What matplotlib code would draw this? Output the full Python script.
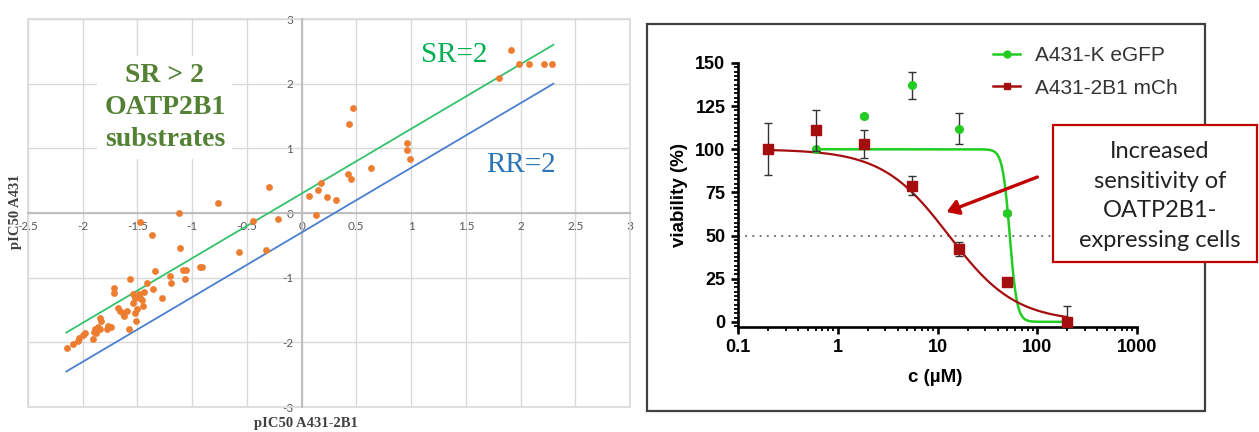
import numpy as np
import matplotlib
matplotlib.use("Agg")
import matplotlib.pyplot as plt
from matplotlib.patches import Rectangle
from matplotlib.ticker import MultipleLocator, FixedLocator, LogLocator, NullFormatter
from matplotlib.lines import Line2D

# ---------------- Left panel data (pIC50 scatter) ----------------
pic50_2b1 = [-2.14, -2.09, -2.04, -2.03, -2.00, -1.98, -1.91, -1.90, -1.89, -1.88,
             -1.86, -1.84, -1.84, -1.83, -1.78, -1.77, -1.74, -1.71, -1.71, -1.68,
             -1.66, -1.63, -1.62, -1.60, -1.58, -1.57, -1.54, -1.52, -1.52, -1.51,
             -1.50, -1.49, -1.48, -1.48, -1.46, -1.45, -1.44, -1.41, -1.37, -1.36,
             -1.34, -1.28, -1.20, -1.19, -1.12, -1.11, -1.08, -1.07, -1.06, -0.93,
             -0.91, -0.76, -0.57, -0.44, -0.33, -0.30, -0.22, 0.07, 0.13, 0.15,
             0.18, 0.23, 0.31, 0.42, 0.45, 0.43, 0.47, 0.63, 0.96, 0.96,
             0.99, 1.80, 1.91, 1.99, 2.08, 2.21, 2.29, -1.54]
pic50_a431 = [-2.09, -2.03, -1.98, -1.94, -1.89, -1.85, -1.95, -1.84, -1.80, -1.85,
              -1.77, -1.62, -1.80, -1.67, -1.79, -1.74, -1.77, -1.16, -1.23, -1.47,
              -1.52, -1.54, -1.59, -1.52, -1.80, -1.02, -1.39, -1.54, -1.31, -1.67,
              -1.49, -1.26, -0.14, -1.32, -1.34, -1.44, -1.22, -1.08, -0.34, -1.18,
              -0.90, -1.32, -0.97, -1.08, 0.00, -0.54, -0.88, -1.02, -0.88, -0.84,
              -0.84, 0.15, -0.61, -0.12, -0.57, 0.40, -0.10, 0.26, -0.03, 0.35,
              0.47, 0.24, 0.20, 0.60, 0.53, 1.38, 1.63, 0.69, 1.08, 0.98,
              0.84, 2.09, 2.52, 2.30, 2.30, 2.30, 2.30, -1.26]
ratio_line_x = [-2.15, 2.3]
sr_offset = 0.301   # log10(2)
rr_offset = -0.301

# ---------------- Right panel data (viability) ----------------
conc_red = [0.2, 0.6, 1.85, 5.55, 16.6, 50, 200]
viab_red = [100, 111, 103, 79, 42, 23, 0]
err_red = [15, 12, 8, 5.5, 4, 1, 9]
conc_green = [0.6, 1.85, 5.55, 16.6, 50, 200]
viab_green = [100, 119, 137, 112, 63, 0]
err_green = [1, 1, 8, 9, 1, 1]
fit_red = dict(top=100, bottom=0, ic50=13.0, hill=1.3)
fit_green = dict(top=100, bottom=0, ic50=53.0, hill=12.0)

W, H = 1259, 432
fig = plt.figure(figsize=(W / 100, H / 100), dpi=100)


def fx(px):
    return px / W


def fy(py):
    return 1 - py / H


# ================= Left panel =================
axL = fig.add_axes([fx(28), fy(407), fx(602), 388 / H])
axL.set_xlim(-2.5, 3)
axL.set_ylim(-3, 3)
axL.xaxis.set_major_locator(MultipleLocator(0.5))
axL.yaxis.set_major_locator(MultipleLocator(1))
axL.grid(True, color="#d9d9d9", lw=1.0, zorder=0)
axL.set_axisbelow(True)
for s in ["top", "right"]:
    axL.spines[s].set_visible(False)
axL.spines["bottom"].set_position(("data", 0))
axL.spines["left"].set_position(("data", 0))
axL.spines["bottom"].set_color("#bfbfbf")
axL.spines["left"].set_color("#bfbfbf")
axL.spines["bottom"].set_linewidth(1.5)
axL.spines["left"].set_linewidth(1.5)
axL.add_patch(Rectangle((0, 0), 1, 1, transform=axL.transAxes, fill=False,
                        ec="#d9d9d9", lw=1.2, zorder=1, clip_on=False))
axL.tick_params(length=0, labelsize=8.5, colors="#595959", pad=6)
for lab in axL.get_xticklabels() + axL.get_yticklabels():
    lab.set_fontfamily("Lato")
axL.xaxis.set_major_formatter(matplotlib.ticker.FuncFormatter(lambda v, p: f"{v:g}"))
axL.yaxis.set_major_formatter(matplotlib.ticker.FuncFormatter(lambda v, p: f"{v:g}"))

lx = np.array(ratio_line_x)
axL.plot(lx, lx + sr_offset, color="#33c26b", lw=1.3, zorder=3)
axL.plot(lx, lx + rr_offset, color="#4a7fd0", lw=1.3, zorder=3)
axL.scatter(pic50_2b1, pic50_a431, s=24, color="#ed7d31", zorder=4, linewidths=0)

axL.text(-1.25, 1.63, "SR > 2\nOATP2B1\nsubstrates", ha="center", va="center",
         multialignment="center", family="Liberation Serif", fontweight="bold",
         fontsize=20, color="#548235", linespacing=1.36, zorder=5,
         bbox=dict(facecolor="white", edgecolor="none", pad=5))
axL.text(1.39, 2.45, "SR=2", ha="center", va="center", family="Liberation Serif",
         fontsize=21, color="#00b050", zorder=5)
axL.text(2.0, 0.75, "RR=2", ha="center", va="center", family="Liberation Serif",
         fontsize=21, color="#2e75b6", zorder=5)

fig.text(fx(16), fy(212), "pIC50 A431", rotation=90, ha="center", va="center",
         family="Liberation Serif", fontweight="bold", fontsize=10.5, color="#404040")
fig.text(fx(306), fy(424), "pIC50 A431-2B1", ha="center", va="center",
         family="Liberation Serif", fontweight="bold", fontsize=10.5, color="#404040")

# ================= Right panel =================
fig.patches.append(Rectangle((fx(647), fy(411)), fx(1205 - 647), (411 - 24) / H,
                             transform=fig.transFigure, fill=False, ec="#404040",
                             lw=1.6, zorder=0))

axR = fig.add_axes([fx(738), fy(327), fx(399), 264 / H])
axR.set_xscale("log")
axR.set_xlim(0.1, 1000)
axR.set_ylim(-3, 150)
for s in ["top", "right"]:
    axR.spines[s].set_visible(False)
for s in ["bottom", "left"]:
    axR.spines[s].set_linewidth(1.9)
axR.yaxis.set_major_locator(FixedLocator([0, 25, 50, 75, 100, 125, 150]))
axR.yaxis.set_minor_locator(MultipleLocator(2.5))
axR.xaxis.set_major_locator(LogLocator(base=10, numticks=10))
axR.xaxis.set_minor_locator(LogLocator(base=10, subs=np.arange(2, 10), numticks=20))
axR.xaxis.set_minor_formatter(NullFormatter())
axR.xaxis.set_major_formatter(matplotlib.ticker.FuncFormatter(lambda v, p: f"{v:g}"))
axR.tick_params(which="major", length=5, width=1.9, labelsize=13, pad=4)
axR.tick_params(which="minor", length=3, width=1.3)
for lab in axR.get_xticklabels() + axR.get_yticklabels():
    lab.set_fontfamily("Liberation Sans")
    lab.set_fontweight("bold")

axR.axhline(50, color="#666666", lw=1.3, ls=(0, (1, 3)), zorder=1)


def four_pl(c, p):
    return p["bottom"] + (p["top"] - p["bottom"]) / (1 + (c / p["ic50"]) ** p["hill"])


cr = np.logspace(np.log10(conc_red[0]), np.log10(conc_red[-1]), 400)
cg = np.logspace(np.log10(conc_green[0]), np.log10(conc_green[-1]), 400)
green_c = "#22cc22"
red_c = "#a50e0e"
axR.plot(cg, four_pl(cg, fit_green), color=green_c, lw=1.8, zorder=3)
axR.plot(cr, four_pl(cr, fit_red), color=red_c, lw=1.6, zorder=3)
axR.errorbar(conc_green, viab_green, yerr=err_green, fmt="o", color=green_c,
             ms=5.5, ecolor="#333333", elinewidth=1.0, capsize=3, capthick=1.0, zorder=4)
axR.errorbar(conc_red, viab_red, yerr=err_red, fmt="s", color=red_c,
             ms=6.5, ecolor="#333333", elinewidth=1.0, capsize=3, capthick=1.0, zorder=5)

fig.text(fx(680), fy(195), "viability (%)", rotation=90, ha="center", va="center",
         family="Liberation Sans", fontweight="bold", fontsize=13.5)
fig.text(fx(935), fy(378), "c (\u00b5M)", ha="center", va="center",
         family="Liberation Sans", fontweight="bold", fontsize=13.5)

handles = [Line2D([], [], color=green_c, lw=1.8, marker="o", ms=5),
           Line2D([], [], color=red_c, lw=1.8, marker="s", ms=5)]
fig.legend(handles, ["A431-K eGFP", "A431-2B1 mCh"], loc="upper left",
           bbox_to_anchor=(fx(993), fy(46)), frameon=False, borderpad=0,
           borderaxespad=0,
           prop=dict(family="Liberation Sans", size=15), labelcolor="#333333",
           handlelength=1.3, handletextpad=0.7, labelspacing=0.65)

# annotation box
fig.patches.append(Rectangle((fx(1053), fy(262)), fx(1257 - 1053), (262 - 125) / H,
                             transform=fig.transFigure, facecolor="white",
                             ec="#c00000", lw=1.6, zorder=6))
fig.text(fx(1160), fy(196), "Increased\nsensitivity of\nOATP2B1-\nexpressing cells",
         ha="center", va="center", multialignment="center", family="Lato",
         fontsize=17, color="#222222", linespacing=1.5, zorder=7)
fig.add_artist(matplotlib.patches.FancyArrowPatch(
    (fx(1040), fy(176)), (fx(944), fy(213)), transform=fig.transFigure,
    arrowstyle="-|>,head_length=7,head_width=4.5", color="#c00000", lw=2.4,
    zorder=7))

fig.savefig("out.png", dpi=100)
